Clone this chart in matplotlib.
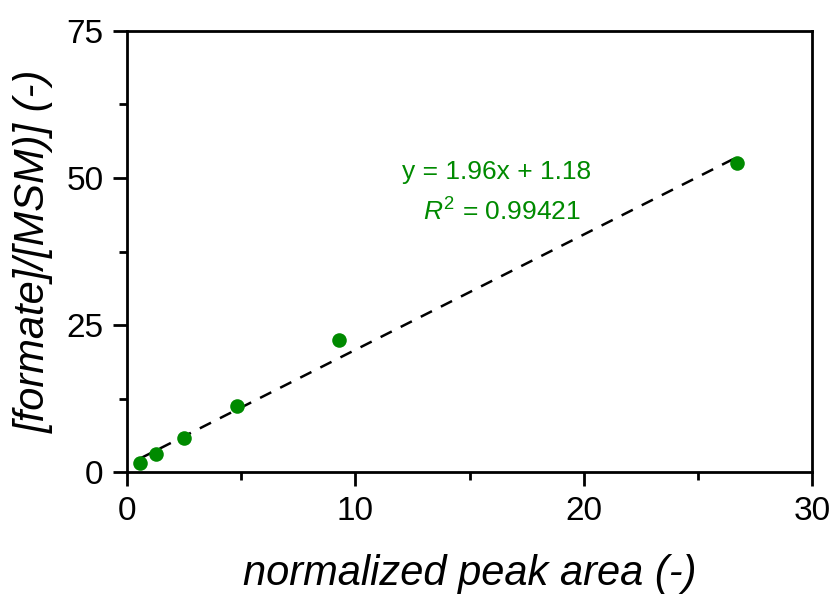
import numpy as np
import matplotlib
matplotlib.use("Agg")
import matplotlib.pyplot as plt
from matplotlib.ticker import MultipleLocator

plt.rcParams["font.family"] = ["Liberation Sans", "DejaVu Sans"]
plt.rcParams["mathtext.fontset"] = "custom"
plt.rcParams["mathtext.rm"] = "Liberation Sans"
plt.rcParams["mathtext.it"] = "Liberation Sans:italic"

# data
peak_area = [0.55, 1.25, 2.5, 4.8, 9.3, 26.7]
formate_ratio = [1.6, 3.0, 5.8, 11.2, 22.4, 52.6]
slope = 1.96
intercept = 1.18
r_squared = 0.99421

fig = plt.figure(figsize=(8.34, 5.96), dpi=100)
ax = fig.add_axes([0.1523, 0.208, 0.8213, 0.740])

# fitted line
x_fit = np.array([min(peak_area), max(peak_area)])
ax.plot(x_fit, slope * x_fit + intercept, color="black", linestyle=(0, (5, 4)),
        linewidth=1.8, zorder=2)
ax.scatter(peak_area, formate_ratio, s=110, color="#008a00", zorder=3, linewidths=0)

ax.set_xlim(0, 30)
ax.set_ylim(0, 75)
ax.xaxis.set_major_locator(MultipleLocator(10))
ax.xaxis.set_minor_locator(MultipleLocator(5))
ax.yaxis.set_major_locator(MultipleLocator(25))
ax.yaxis.set_minor_locator(MultipleLocator(12.5))
ax.tick_params(which="both", direction="out", width=2, labelsize=24, pad=7)
ax.tick_params(which="major", length=10)
ax.tick_params(which="minor", length=6)
for sp in ax.spines.values():
    sp.set_linewidth(2)

ax.set_xlabel("normalized peak area (-)", fontsize=30, style="italic", labelpad=20)
ax.set_ylabel("[formate]/[MSM)] (-)", fontsize=30, style="italic", labelpad=9)

ax.text(16.2, 51.0, "y = %.2fx + %.2f" % (slope, intercept), color="#008a00",
        fontsize=19, ha="center", va="center")
ax.text(16.4, 44.2, "$R^2$ = %.5f" % r_squared, color="#008a00",
        fontsize=19, ha="center", va="center")

fig.savefig("out.png", dpi=100)
